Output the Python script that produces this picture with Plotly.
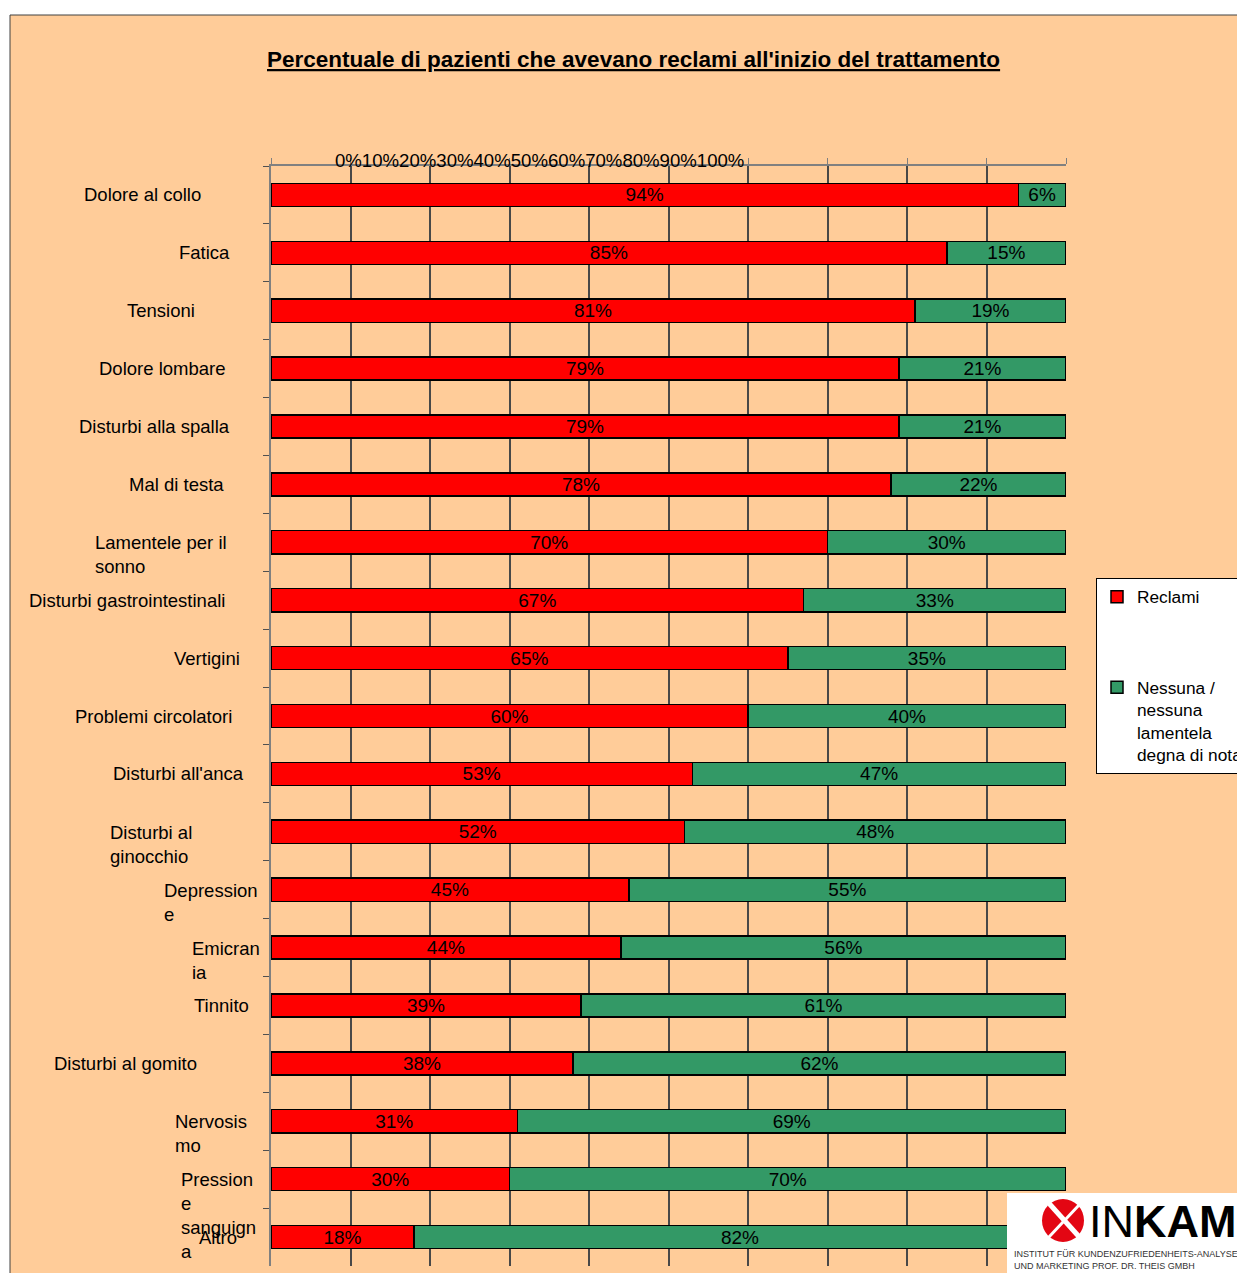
import plotly.graph_objects as go

categories = [
    "Dolore al collo", "Fatica", "Tensioni", "Dolore lombare", "Disturbi alla spalla",
    "Mal di testa", "Lamentele per il<br>sonno", "Disturbi gastrointestinali", "Vertigini",
    "Problemi circolatori", "Disturbi all'anca", "Disturbi al<br>ginocchio", "Depression<br>e",
    "Emicran<br>ia", "Tinnito", "Disturbi al gomito", "Nervosis<br>mo",
    "Pression<br>e<br>sanguign<br>a", "Altro",
]
reclami = [94, 85, 81, 79, 79, 78, 70, 67, 65, 60, 53, 52, 45, 44, 39, 38, 31, 30, 18]
nessuna = [6, 15, 19, 21, 21, 22, 30, 33, 35, 40, 47, 48, 55, 56, 61, 62, 69, 70, 82]
tick_values = [0, 10, 20, 30, 40, 50, 60, 70, 80, 90, 100]
tick_labels = [f"{v}%" for v in tick_values]
series_names = ["Reclami", "Nessuna /<br>nessuna<br>lamentela<br>degna di nota"]
title_text = "Percentuale di pazienti che avevano reclami all'inizio del trattamento"

# layout helpers (pixel geometry of the reference; page has an 8px body offset)
W, H = 1245, 1273
OFF = 8
ML, MT = 271 - OFF, 166 - OFF
PW, PH = 795, 1100
MR = W - ML - PW
MB = H - MT - PH
def px(x):
    return (x - OFF - ML) / PW
def py(y):
    return (MT + PH - (y - OFF)) / PH

label_left_px = [82, 177, 125, 97, 77, 127, 93, 27, 172, 73, 111, 108, 162, 190, 192, 52, 173, 179, 197]

FONT = "Liberation Sans, Arial, sans-serif"
fig = go.Figure()
fig.add_trace(go.Bar(
    y=categories, x=reclami, orientation="h", name=series_names[0],
    marker=dict(color="#FF0000", line=dict(color="black", width=1.5)),
    text=[f"{v}%" for v in reclami], textposition="inside", insidetextanchor="middle",
    textangle=0, constraintext="none", textfont=dict(color="black", size=19, family=FONT),
    legendgroup="a", hoverinfo="skip",
))
fig.add_trace(go.Bar(
    y=categories, x=nessuna, orientation="h", name=series_names[1],
    marker=dict(color="#339966", line=dict(color="black", width=1.5)),
    text=[f"{v}%" for v in nessuna], textposition="inside", insidetextanchor="middle",
    textangle=0, constraintext="none", textfont=dict(color="black", size=19, family=FONT),
    legendgroup="b", hoverinfo="skip",
))

annotations = []
for cat, lx in zip(categories, label_left_px):
    multi = "<br>" in cat
    annotations.append(dict(
        x=px(lx), xref="paper", y=cat, yref="y", text=cat, showarrow=False,
        xanchor="left", yanchor="top" if multi else "middle", yshift=12 if multi else 0,
        align="left", font=dict(size=18.5, family=FONT, color="black"),
    ))
annotations.append(dict(
    x=px(333), xref="paper", y=py(160), yref="paper", text="".join(tick_labels),
    showarrow=False, xanchor="left", yanchor="middle",
    font=dict(size=18.6, family=FONT, color="black"),
))
annotations.append(dict(
    x=px(633), xref="paper", y=py(60), yref="paper",
    text=f"<b><u>{title_text}</u></b>", showarrow=False, xanchor="center", yanchor="middle",
    font=dict(size=22.5, family=FONT, color="black"),
))
# logo text
annotations.append(dict(
    x=px(1087), xref="paper", y=py(1221), yref="paper",
    text="IN<b>KAM</b>", showarrow=False, xanchor="left", yanchor="middle",
    font=dict(size=45, family=FONT, color="black"),
))
annotations.append(dict(
    x=px(1012), xref="paper", y=py(1247), yref="paper",
    text="INSTITUT FÜR KUNDENZUFRIEDENHEITS-ANALYSEN<br>UND MARKETING PROF. DR. THEIS GMBH",
    showarrow=False, xanchor="left", yanchor="top", align="left",
    font=dict(size=9, family="Liberation Sans Narrow, Liberation Sans, Arial", color="#333333"),
))

shapes = [
    dict(type="rect", xref="paper", yref="paper", x0=px(10), x1=px(1270), y0=py(1300), y1=py(15),
         fillcolor="#FFCC99", line=dict(color="#404040", width=1), layer="below"),
    dict(type="rect", xref="paper", yref="paper", x0=px(1007), x1=px(1270), y0=py(1300), y1=py(1193),
         fillcolor="white", line=dict(width=0), layer="above"),
    dict(type="circle", xref="paper", yref="paper", x0=px(1042), x1=px(1084), y0=py(1242), y1=py(1199),
         fillcolor="#E30613", line=dict(width=0), layer="above"),
    dict(type="line", xref="paper", yref="paper", x0=px(1046), x1=px(1082), y0=py(1200), y1=py(1240),
         line=dict(color="white", width=5), layer="above"),
    dict(type="line", xref="paper", yref="paper", x0=px(1048), x1=px(1080), y0=py(1238), y1=py(1204),
         line=dict(color="white", width=3), layer="above"),
]

fig.update_layout(
    width=W, height=H, margin=dict(l=ML, r=MR, t=MT, b=MB, autoexpand=False),
    paper_bgcolor="white", plot_bgcolor="#C0C0C0",
    barmode="stack", bargap=0.6,
    font=dict(family=FONT, color="black"),
    showlegend=True,
    legend=dict(
        x=px(1096), y=py(578), xanchor="left", yanchor="top",
        bgcolor="white", bordercolor="black", borderwidth=1,
        font=dict(size=17.3, family=FONT, color="black"),
        traceorder="grouped", tracegroupgap=65, valign="top",
        itemwidth=30, itemclick=False, itemdoubleclick=False,
    ),
    xaxis=dict(
        side="top", range=[0, 100], tickvals=tick_values, showticklabels=False,
        ticks="outside", ticklen=6, tickcolor="#808080",
        showgrid=True, gridcolor="#484848", gridwidth=1.5,
        showline=True, linecolor="#808080", linewidth=1.5, zeroline=False, fixedrange=True,
    ),
    yaxis=dict(
        type="category", autorange="reversed", showticklabels=False,
        ticks="outside", ticklen=6, tickcolor="#505050", tickson="boundaries",
        showgrid=False, showline=True, linecolor="#808080", linewidth=1.5, fixedrange=True,
    ),
    annotations=annotations, shapes=shapes,
)

fig.write_html("out.html")
